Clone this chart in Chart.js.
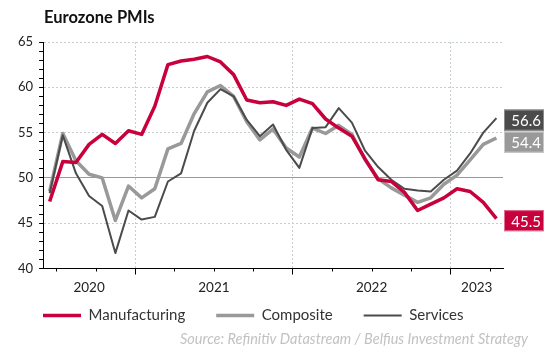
<!DOCTYPE html>
<html><head><meta charset="utf-8">
<script src="https://cdn.jsdelivr.net/npm/chart.js@4"></script>
<style>html,body{margin:0;padding:0;background:#fff}</style>
</head><body>
<canvas id="c" width="550" height="350"></canvas>
<script>
// ---- data ----
const months = ['Jun-20','Jul-20','Aug-20','Sep-20','Oct-20','Nov-20','Dec-20',
  'Jan-21','Feb-21','Mar-21','Apr-21','May-21','Jun-21','Jul-21','Aug-21','Sep-21','Oct-21','Nov-21','Dec-21',
  'Jan-22','Feb-22','Mar-22','Apr-22','May-22','Jun-22','Jul-22','Aug-22','Sep-22','Oct-22','Nov-22','Dec-22',
  'Jan-23','Feb-23','Mar-23','Apr-23'];
const manufacturing = [47.4,51.8,51.7,53.7,54.8,53.8,55.2,
  54.8,57.9,62.5,62.9,63.1,63.4,62.8,61.4,58.6,58.3,58.4,58.0,
  58.7,58.2,56.5,55.5,54.6,52.1,49.8,49.6,48.4,46.4,47.1,47.8,
  48.8,48.5,47.3,45.5];
const composite = [48.5,54.9,51.9,50.4,50.0,45.3,49.1,
  47.8,48.8,53.2,53.8,57.1,59.5,60.2,59.0,56.2,54.2,55.4,53.3,
  52.3,55.5,54.9,55.8,54.8,52.0,49.9,48.9,48.1,47.3,47.8,49.3,
  50.3,52.0,53.7,54.4];
const services = [48.3,54.7,50.5,48.0,46.9,41.7,46.4,
  45.4,45.7,49.6,50.5,55.2,58.3,59.8,59.0,56.4,54.6,55.9,53.1,
  51.1,55.5,55.6,57.7,56.1,53.0,51.2,49.8,48.8,48.6,48.5,49.8,
  50.8,52.7,55.0,56.6];
const yearLabels = ['2020','2021','2022','2023'];
const yTickLabels = [40,45,50,55,60,65];
const seriesNames = ['Manufacturing','Composite','Services'];

// ---- styles ----
const RED = '#c8003c', LGREY = '#999999', DGREY = '#4b4b4b';
const GRID = '#c6cdcd';
const FONT = 'Lato';

// derived axis positions (month boundaries)
const yearBounds = [], quarterBounds = [], yearCenters = {};
months.forEach((m, i) => {
  const mon = m.slice(0, 3);
  if (['Jan','Apr','Jul','Oct'].includes(mon) && i > 0) quarterBounds.push(i - 0.5);
  if (mon === 'Jan' && i > 0) yearBounds.push(i - 0.5);
});
yearLabels.forEach(y => {
  const idx = months.map((m, i) => m.endsWith(y.slice(2)) ? i : -1).filter(i => i >= 0);
  const c = (idx[0] - 0.5 + idx[idx.length - 1] + 0.5) / 2;
  yearCenters[String(c)] = y;
});
const toXY = arr => arr.map((v, i) => ({x: i, y: v}));

const endLabels = {
  id: 'endLabels',
  afterDatasetsDraw(chart) {
    const ctx = chart.ctx, area = chart.chartArea;
    const h = 21;
    const items = chart.data.datasets.map((ds, di) => {
      const meta = chart.getDatasetMeta(di);
      const pt = meta.data[meta.data.length - 1];
      return {y: pt.y + 2, v: ds.data[ds.data.length - 1].y, color: ds.borderColor, border: ds.boxBorder};
    }).sort((a, b) => a.y - b.y);
    for (let i = 1; i < items.length; i++) {
      if (items[i].y - items[i - 1].y < h + 1) items[i].y = items[i - 1].y + h + 1;
    }
    ctx.save();
    items.forEach(it => {
      const x0 = area.right + 1, w = 40;
      ctx.fillStyle = it.color;
      ctx.fillRect(x0, it.y - h / 2, w, h);
      ctx.strokeStyle = it.border;
      ctx.lineWidth = 1;
      ctx.strokeRect(x0 + 0.5, it.y - h / 2 + 0.5, w - 1, h - 1);
      ctx.fillStyle = '#fff';
      ctx.font = '15px ' + FONT;
      ctx.textAlign = 'right';
      ctx.textBaseline = 'middle';
      ctx.fillText(it.v.toFixed(1), x0 + w - 3, it.y + 1);
    });
    ctx.restore();
  }
};

const extras = {
  id: 'extras',
  afterLayout(chart) {
    // pull the legend up closer to the year labels
    const lg = chart.legend;
    if (lg) { lg.top -= 23; lg.bottom -= 23; }
  },
  afterDraw(chart) {
    const ctx = chart.ctx, area = chart.chartArea;
    const xs = chart.scales.x;
    ctx.save();
    // minor quarter ticks
    ctx.strokeStyle = '#000'; ctx.lineWidth = 1;
    quarterBounds.forEach(v => {
      if (yearBounds.includes(v)) return;
      const px = Math.round(xs.getPixelForValue(v)) + 0.5;
      ctx.beginPath(); ctx.moveTo(px, area.bottom); ctx.lineTo(px, area.bottom + 3); ctx.stroke();
    });
    // title
    ctx.fillStyle = '#111';
    ctx.font = 'bold 16.5px ' + FONT;
    ctx.textAlign = 'left'; ctx.textBaseline = 'middle';
    ctx.fillText('Eurozone PMIs', area.left + 1, 18);
    // source
    ctx.fillStyle = '#c2c2c2';
    ctx.font = 'italic 14.5px ' + FONT;
    ctx.textAlign = 'right';
    ctx.fillText('Source: Refinitiv Datastream / Belfius Investment Strategy', 528, 339);
    ctx.restore();
  }
};

new Chart(document.getElementById('c'), {
  type: 'line',
  data: {
    datasets: [
      {label: seriesNames[0], data: toXY(manufacturing), borderColor: RED, backgroundColor: RED, borderWidth: 3.5, order: 0, boxBorder: '#e07090'},
      {label: seriesNames[1], data: toXY(composite), borderColor: LGREY, backgroundColor: LGREY, borderWidth: 3.5, order: 2, boxBorder: '#c8c8c8'},
      {label: seriesNames[2], data: toXY(services), borderColor: DGREY, backgroundColor: DGREY, borderWidth: 2, order: 1, boxBorder: '#8a8a8a'}
    ]
  },
  options: {
    responsive: false,
    devicePixelRatio: 1,
    animation: false,
    events: [],
    elements: {point: {radius: 0}, line: {tension: 0, borderJoinStyle: 'round', borderCapStyle: 'butt'}},
    layout: {padding: {left: 12, right: 47, top: 42, bottom: -6}},
    scales: {
      x: {
        type: 'linear', min: -0.5, max: months.length - 0.5,
        afterBuildTicks: s => {
          const t = [...new Set([...quarterBounds, ...Object.keys(yearCenters).map(Number)])].sort((a, b) => a - b);
          s.ticks = t.map(v => ({value: v}));
        },
        ticks: {
          autoSkip: false, maxRotation: 0, padding: 6,
          color: '#222', font: {family: FONT, size: 13.5, lineHeight: 1.0},
          callback: v => yearCenters[String(v)] || ''
        },
        grid: {
          color: c => (c.tick && yearBounds.includes(c.tick.value)) ? GRID : 'rgba(0,0,0,0)',
          tickColor: c => (c.tick && yearBounds.includes(c.tick.value)) ? '#000' : 'rgba(0,0,0,0)',
          tickLength: 6, lineWidth: 1
        },
        border: {color: '#000', width: 1, dash: [2, 2]}
      },
      y: {
        min: 40, max: 65,
        afterBuildTicks: s => {
          const t = [];
          for (let v = 40; v <= 65; v++) t.push({value: v});
          s.ticks = t;
        },
        ticks: {
          autoSkip: false, padding: 6,
          color: '#222', font: {family: FONT, size: 13},
          callback: v => yTickLabels.includes(v) ? String(v) : ''
        },
        grid: {
          color: c => {
            if (!c.tick) return 'rgba(0,0,0,0)';
            const v = c.tick.value;
            if (v === 50) return '#9a9a9a';
            if (v !== 40 && yTickLabels.includes(v)) return GRID;
            return 'rgba(0,0,0,0)';
          },
          tickColor: '#000', tickLength: 4, lineWidth: 1
        },
        border: {color: '#000', width: 1, dash: c => (c.tick && c.tick.value === 50) ? [] : [2, 2]}
      }
    },
    plugins: {
      legend: {
        position: 'bottom', align: 'start',
        labels: {
          usePointStyle: true, pointStyle: 'line', pointStyleWidth: 38,
          padding: 31, color: '#333', font: {family: FONT, size: 15},
          sort: (a, b) => a.datasetIndex - b.datasetIndex
        }
      },
      tooltip: {enabled: false},
      title: {display: false}
    }
  },
  plugins: [endLabels, extras]
});
</script>
</body></html>
